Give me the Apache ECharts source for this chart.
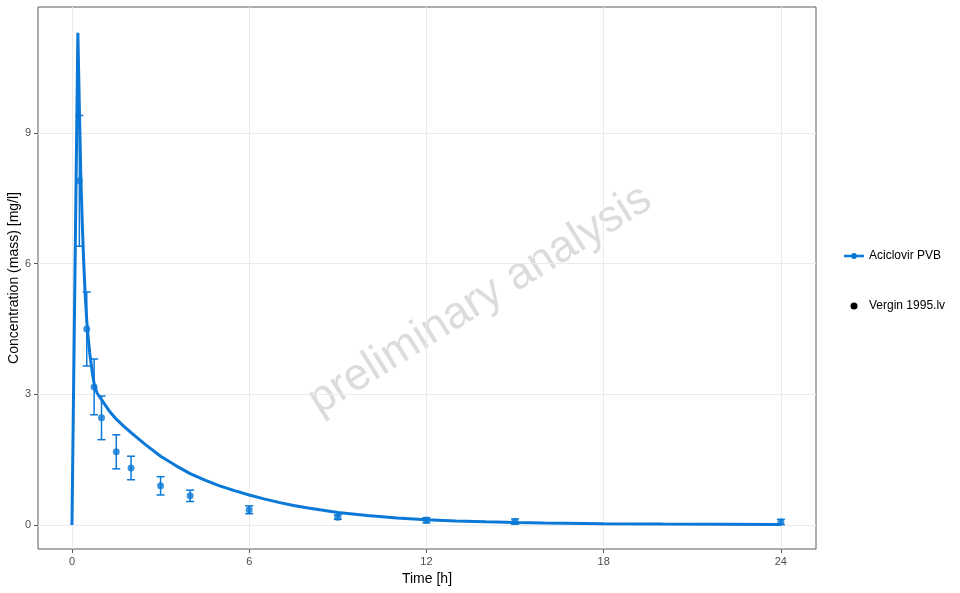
<!DOCTYPE html>
<html>
<head>
<meta charset="utf-8">
<script src="https://cdn.jsdelivr.net/npm/echarts@6/dist/echarts.min.js"></script>
<style>html,body{margin:0;padding:0;background:#fff}#c{width:960px;height:593px}</style>
</head>
<body>
<div id="c"></div>
<script>
// Simulated curve (time [h], concentration [mg/l])
const simTime = [0, 0.1, 0.2, 0.25, 0.3, 0.35, 0.4, 0.45, 0.5, 0.55, 0.6, 0.7, 0.76, 0.85, 1.0, 1.25, 1.5, 1.75, 2, 2.5, 3, 3.5, 4, 4.5, 5, 5.5, 6, 6.5, 7, 7.5, 8, 9, 10, 11, 12, 13, 14, 15, 16, 18, 20, 22, 24];
const simConc = [0, 5.7, 11.3, 9.6, 8.0, 6.9, 6.0, 5.25, 4.7, 4.3, 3.95, 3.45, 3.2, 3.03, 2.88, 2.63, 2.43, 2.27, 2.12, 1.84, 1.58, 1.37, 1.18, 1.03, 0.9, 0.79, 0.69, 0.6, 0.52, 0.45, 0.39, 0.29, 0.22, 0.16, 0.12, 0.095, 0.075, 0.06, 0.048, 0.032, 0.022, 0.017, 0.013];
// Observed data (Vergin 1995.lv)
const obsTime = [0.25, 0.5, 0.75, 1, 1.5, 2, 3, 4, 6, 9, 12, 15, 24];
const obsMean = [7.9, 4.5, 3.17, 2.46, 1.68, 1.31, 0.9, 0.67, 0.35, 0.18, 0.11, 0.08, 0.07];
const obsSD   = [1.5, 0.85, 0.64, 0.5, 0.39, 0.27, 0.21, 0.13, 0.09, 0.05, 0.06, 0.06, 0.06];
const xTicks = [0, 6, 12, 18, 24];
const yTicks = [0, 3, 6, 9];

const blue = '#0a78d7';
const chart = echarts.init(document.getElementById('c'), null, {renderer: 'canvas'});
const font = 'Liberation Sans, Arial, sans-serif';

const simData = simTime.map((t, i) => [t, simConc[i]]);
const obsData = obsTime.map((t, i) => [t, obsMean[i]]);
const errData = obsTime.map((t, i) => [t, obsMean[i] - obsSD[i], obsMean[i] + obsSD[i]]);

chart.setOption({
  animation: false,
  textStyle: {fontFamily: font},
  grid: {left: 38, right: 144, top: 7, bottom: 44, show: true, borderColor: '#5a5a5a', borderWidth: 1,
         backgroundColor: 'transparent', containLabel: false, outerBoundsMode: 'none'},
  xAxis: {
    type: 'value', min: -1.15, max: 25.19,
    name: 'Time [h]', nameLocation: 'middle', nameGap: 22,
    nameTextStyle: {fontSize: 14, color: '#000', fontFamily: font},
    axisLine: {show: false, onZero: false},
    axisTick: {show: true, length: 4, lineStyle: {color: '#5a5a5a'}, customValues: xTicks},
    axisLabel: {customValues: xTicks, color: '#4d4d4d', fontSize: 11, margin: 7, fontFamily: font},
    splitLine: {show: true, lineStyle: {color: '#ebebeb', width: 1}}
  },
  yAxis: {
    type: 'value', min: -0.55, max: 11.89,
    name: 'Concentration (mass) [mg/l]', nameLocation: 'middle', nameGap: 17, nameMoveOverlap: false,
    nameTextStyle: {fontSize: 14, color: '#000', fontFamily: font},
    axisLine: {show: false, onZero: false},
    axisTick: {show: true, length: 4, lineStyle: {color: '#5a5a5a'}, customValues: yTicks},
    axisLabel: {customValues: yTicks, color: '#4d4d4d', fontSize: 11, margin: 7, fontFamily: font},
    splitLine: {show: true, lineStyle: {color: '#ebebeb', width: 1}}
  },
  legend: {
    orient: 'vertical', left: 839, top: 245, itemGap: 38, itemWidth: 20, itemHeight: 7,
    textStyle: {fontSize: 12, color: '#000', fontFamily: font},
    data: [
      {name: 'Aciclovir PVB', icon: 'path://M0,2.25 L20,2.25 L20,4.75 L0,4.75 Z M13,3.5 A3,3 0 1 1 7,3.5 A3,3 0 1 1 13,3.5 Z M0,0 M20,7', itemStyle: {color: blue}},
      {name: 'Vergin 1995.lv', icon: 'circle', itemStyle: {color: '#000'}}
    ]
  },
  graphic: [{
    type: 'text', x: 480, y: 300, rotation: 32 * Math.PI / 180, z: 0,
    style: {text: 'preliminary analysis', fontSize: 45, fill: '#dcdcdc', fontFamily: font, align: 'center', verticalAlign: 'middle'}
  }],
  series: [
    {
      name: 'Aciclovir PVB', type: 'line', data: simData, showSymbol: false, symbol: 'none',
      lineStyle: {color: blue, width: 3}, itemStyle: {color: blue}, z: 3
    },
    {
      name: 'Vergin 1995.lv', type: 'custom', data: errData, z: 4,
      renderItem: function (params, api) {
        const x = api.value(0);
        const lo = api.coord([x, api.value(1)]);
        const hi = api.coord([x, api.value(2)]);
        const w = 4;
        const st = {stroke: blue, lineWidth: 1.5};
        return {type: 'group', children: [
          {type: 'line', shape: {x1: lo[0], y1: lo[1], x2: hi[0], y2: hi[1]}, style: st},
          {type: 'line', shape: {x1: lo[0] - w, y1: lo[1], x2: lo[0] + w, y2: lo[1]}, style: st},
          {type: 'line', shape: {x1: hi[0] - w, y1: hi[1], x2: hi[0] + w, y2: hi[1]}, style: st}
        ]};
      }
    },
    {
      name: 'Vergin 1995.lv', type: 'scatter', data: obsData, symbol: 'circle', symbolSize: 7,
      itemStyle: {color: blue}, z: 5
    }
  ]
});
</script>
</body>
</html>
